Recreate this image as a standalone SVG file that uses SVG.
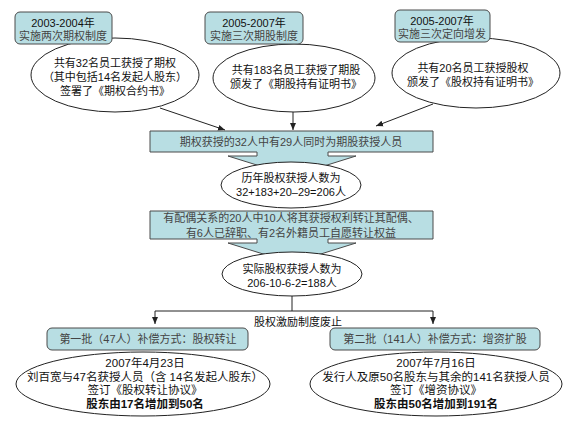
<svg xmlns="http://www.w3.org/2000/svg" width="576" height="425" viewBox="0 0 576 425">
<defs>
<style>
.box{fill:#B8DEE3;stroke:#4a4a4a;stroke-width:1}
.ell{fill:#fff;stroke:#222;stroke-width:1}
.t{font-family:"Liberation Sans","Noto Sans CJK SC",sans-serif;font-size:11px;fill:#111;text-anchor:middle}
.s{font-size:11.5px}
.g{fill:#444}
.b{font-weight:bold}
.ln{stroke:#222;stroke-width:1;fill:none}
</style>
<marker id="ah" markerWidth="8" markerHeight="8" refX="7" refY="4" orient="auto" markerUnits="userSpaceOnUse">
<path d="M0,1 L7,4 L0,7 Z" fill="#222"/>
</marker>
</defs>
<rect width="576" height="425" fill="#fff"/>

<g id="e1">
<ellipse class="ell" cx="115" cy="75" rx="84" ry="37"/>
<text class="t" x="115" y="67">共有32名员工获授了期权</text>
<text class="t" x="115" y="81">（其中包括14名发起人股东）</text>
<text class="t" x="115" y="95">签署了《期权合约书》</text>
</g>
<g id="b1">
<rect class="box" x="15" y="12" width="97" height="32" rx="5"/>
<text class="t" x="63" y="27">2003-2004年</text>
<text class="t g" x="63" y="40">实施两次期权制度</text>
</g>

<g id="e2">
<ellipse class="ell" cx="294" cy="78" rx="81" ry="34"/>
<text class="t" x="296" y="74">共有183名员工获授了期股</text>
<text class="t" x="296" y="88">颁发了《期股持有证明书》</text>
</g>
<g id="b2">
<rect class="box" x="205" y="12" width="98" height="32" rx="5"/>
<text class="t" x="254" y="27">2005-2007年</text>
<text class="t g" x="254" y="40">实施三次期股制度</text>
</g>

<g id="e3">
<ellipse class="ell" cx="476" cy="73" rx="84" ry="35"/>
<text class="t" x="473" y="72">共有20名员工获授股权</text>
<text class="t" x="473" y="86">颁发了《股权持有证明书》</text>
</g>
<g id="b3">
<rect class="box" x="395" y="10" width="95" height="32" rx="5"/>
<text class="t" x="442" y="25">2005-2007年</text>
<text class="t g" x="442" y="38">实施三次定向增发</text>
</g>

<g id="connectors">
<line class="ln" x1="160" y1="108" x2="225" y2="130" marker-end="url(#ah)"/>
<line class="ln" x1="293" y1="112" x2="293" y2="130" marker-end="url(#ah)"/>
<line class="ln" x1="433" y1="104" x2="376" y2="126" marker-end="url(#ah)"/>
<polyline class="ln" points="292,296 292,311"/>
<polyline class="ln" points="155,311 433,311"/>
<line class="ln" x1="155" y1="311" x2="155" y2="324" marker-end="url(#ah)"/>
<line class="ln" x1="433" y1="311" x2="433" y2="324" marker-end="url(#ah)"/>
</g>

<g id="m1">
<path class="box" d="M150,131 H433 V152 H328 V156 H356 L292,176 L228,156 H257 V152 H150 Z"/>
<text class="t g" x="291" y="146">期权获授的32人中有29人同时为期股获授人员</text>
</g>
<g id="r1">
<ellipse class="ell" cx="291" cy="185" rx="70" ry="23"/>
<text class="t" x="291" y="182">历年股权获授人数为</text>
<text class="t" x="291" y="196">32+183+20–29=206人</text>
</g>

<g id="m2">
<path class="box" d="M150,211 H433 V239 H328 V243 H356 L292,263 L228,243 H257 V239 H150 Z"/>
<text class="t g" x="291" y="222">有配偶关系的20人中10人将其获授权利转让其配偶、</text>
<text class="t g" x="291" y="237">有6人已辞职、有2名外籍员工自愿转让权益</text>
</g>
<g id="r2">
<ellipse class="ell" cx="292" cy="274" rx="70" ry="22"/>
<text class="t" x="292" y="273">实际股权获授人数为</text>
<text class="t" x="292" y="287">206-10-6-2=188人</text>
</g>

<text class="t" x="298" y="326">股权激励制度废止</text>

<g id="bl">
<rect class="box" x="47" y="328" width="201" height="22" rx="5"/>
<text class="t g" x="148" y="343">第一批（47人）补偿方式：股权转让</text>
</g>
<g id="el">
<ellipse class="ell" cx="143" cy="384" rx="127" ry="32"/>
<text class="t s" x="145" y="367">2007年4月23日</text>
<text class="t s" x="145" y="381">刘百宽与47名获授人员（含 14名发起人股东）</text>
<text class="t s" x="145" y="394">签订《股权转让协议》</text>
<text class="t s b" x="145" y="408">股东由17名增加到50名</text>
</g>

<g id="br">
<rect class="box" x="330" y="328" width="210" height="22" rx="5"/>
<text class="t g" x="435" y="343">第二批（141人）补偿方式：增资扩股</text>
</g>
<g id="er">
<ellipse class="ell" cx="436" cy="384" rx="126" ry="32"/>
<text class="t s" x="436" y="367">2007年7月16日</text>
<text class="t s" x="436" y="381">发行人及原50名股东与其余的141名获授人员</text>
<text class="t s" x="436" y="394">签订《增资协议》</text>
<text class="t s b" x="436" y="408">股东由50名增加到191名</text>
</g>
</svg>
